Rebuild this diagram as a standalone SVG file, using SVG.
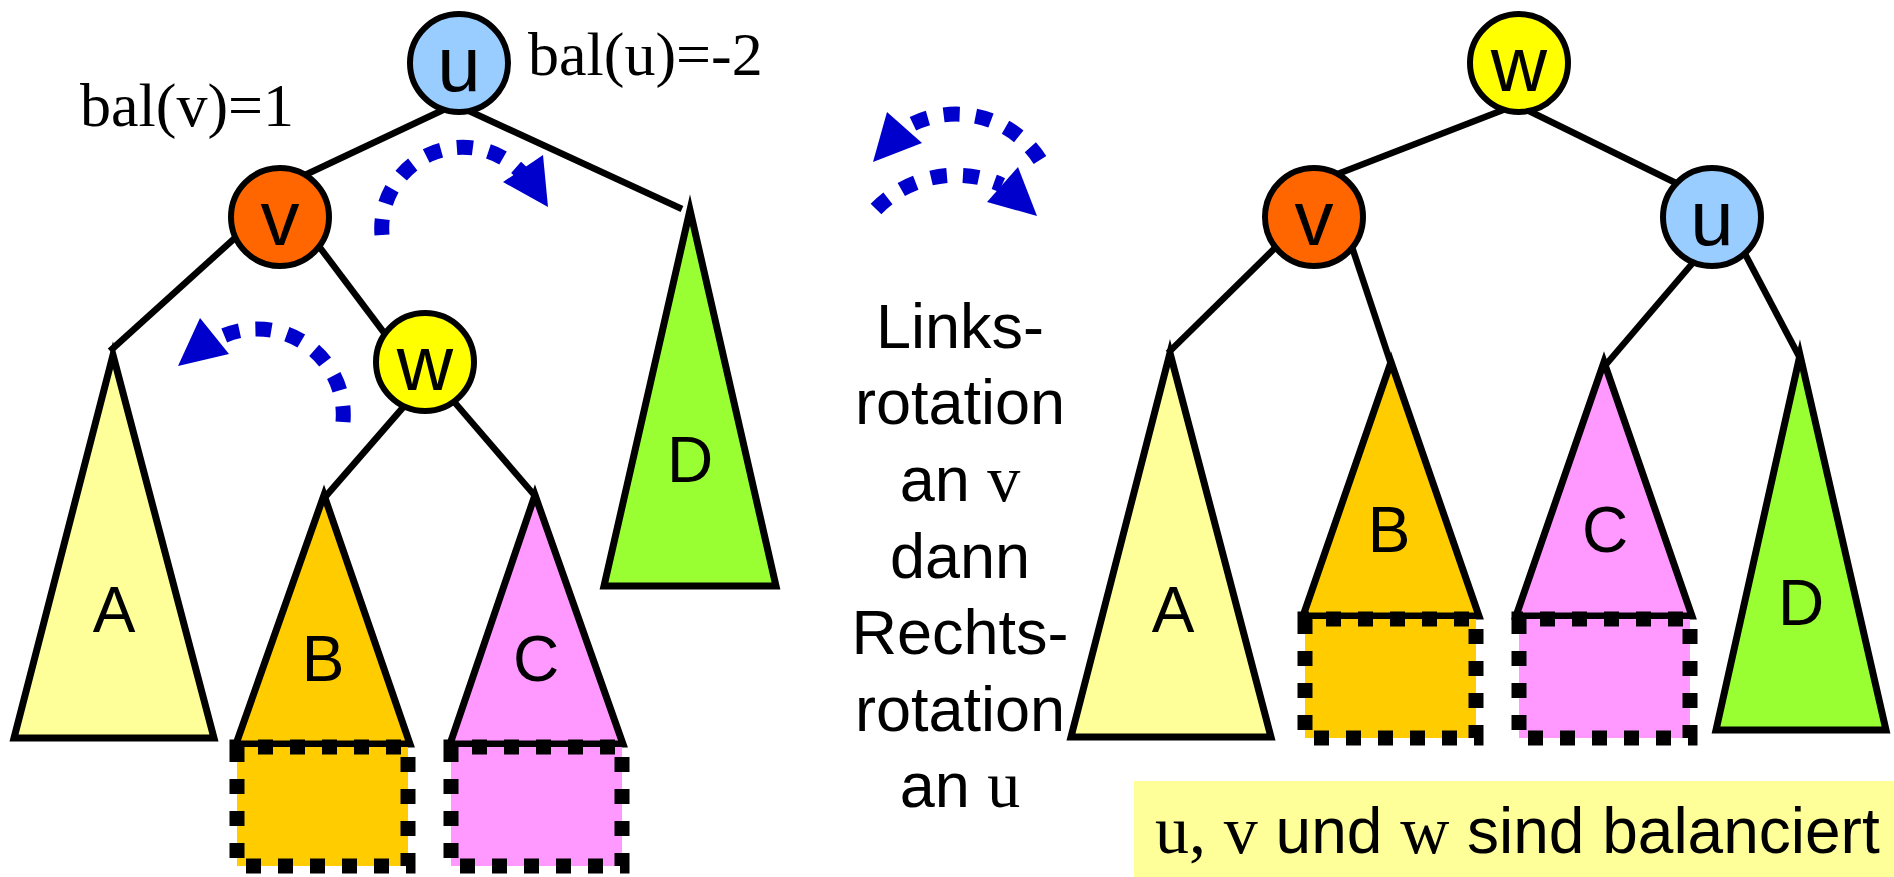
<svg xmlns="http://www.w3.org/2000/svg" width="1894" height="877" viewBox="0 0 1894 877">
<style>
.edge{stroke:#000;stroke-width:6.5;fill:none;stroke-linecap:butt}
.node{stroke:#000;stroke-width:6}
.tri{stroke:#000;stroke-width:7;stroke-linejoin:miter;stroke-miterlimit:10}
.box{stroke:#000;stroke-width:15;stroke-dasharray:15 17;stroke-dashoffset:11}
.rot{stroke:#0000CC;stroke-width:15;fill:none;stroke-dasharray:16 16}
.head{fill:#0000CC}
.sans{font-family:"Liberation Sans",Arial,sans-serif;fill:#000}
.serif{font-family:"Liberation Serif","Times New Roman",serif;fill:#000}
.nl{font-size:78px;text-anchor:middle}
.tl{font-size:64px;text-anchor:middle}
.mid{font-size:63px;text-anchor:middle}
</style>
<rect width="1894" height="877" fill="#fff"/>

<g id="connectors">
  <line class="edge" x1="443" y1="110" x2="305" y2="175"/>
  <line class="edge" x1="467" y1="110" x2="682" y2="209"/>
  <line class="edge" x1="236" y1="237" x2="110" y2="351"/>
  <line class="edge" x1="318" y1="245" x2="385" y2="334"/>
  <line class="edge" x1="406" y1="404" x2="326" y2="496"/>
  <line class="edge" x1="450" y1="397" x2="536" y2="497"/>
  <line class="edge" x1="1503" y1="110" x2="1335" y2="175"/>
  <line class="edge" x1="1527" y1="110" x2="1680" y2="185"/>
  <line class="edge" x1="1276" y1="247" x2="1168" y2="353"/>
  <line class="edge" x1="1352" y1="247" x2="1391" y2="364"/>
  <line class="edge" x1="1697" y1="258" x2="1603" y2="368"/>
  <line class="edge" x1="1744" y1="252" x2="1801" y2="360"/>
  <path class="rot" d="M 382 235 A 81 81 0 0 1 521 172"/>
  <polygon class="head" points="503,182 543,155 548,207"/>
  <path class="rot" d="M 343 422 A 86 86 0 0 0 215 340"/>
  <polygon class="head" points="200,318 229,354 178,366"/>
  <path class="rot" d="M 1040 160 A 100 100 0 0 0 905 128"/>
  <polygon class="head" points="887,112 922,143 873,162"/>
  <path class="rot" d="M 876 209 A 112 112 0 0 1 1002 185"/>
  <polygon class="head" points="987,202 1018,167 1037,216"/>
</g>

<g id="left-u">
  <circle class="node" cx="459" cy="63" r="49" fill="#99CCFF"/>
  <text class="sans nl" x="459" y="91">u</text>
</g>
<g id="left-v">
  <circle class="node" cx="280" cy="217" r="49" fill="#FF6600"/>
  <text class="sans nl" x="280" y="245">v</text>
</g>
<g id="left-w">
  <circle class="node" cx="425" cy="362" r="49" fill="#FFFF00"/>
  <text class="sans nl" x="425" y="390">w</text>
</g>
<g id="left-A">
  <polygon class="tri" points="113,355 214,738 14,738" fill="#FFFF99"/>
  <text class="sans tl" x="114" y="632">A</text>
</g>
<g id="left-B">
  <polygon class="tri" points="324,495 410,744 236,744" fill="#FFCC00"/>
  <rect class="box" x="237" y="747" width="171" height="119" fill="#FFCC00"/>
  <text class="sans tl" x="323" y="681">B</text>
</g>
<g id="left-C">
  <polygon class="tri" points="535,495 623,744 450,744" fill="#FF99FF"/>
  <rect class="box" x="451" y="747" width="171" height="119" fill="#FF99FF"/>
  <text class="sans tl" x="536" y="681">C</text>
</g>
<g id="left-D">
  <polygon class="tri" points="690,210 776,586 604,586" fill="#99FF33"/>
  <text class="sans tl" x="690" y="482">D</text>
</g>
<g id="bal-labels">
  <text class="serif" font-size="62" x="80" y="126">bal(v)=1</text>
  <text class="serif" font-size="62" x="528" y="75">bal(u)=-2</text>
</g>

<g id="middle-text">
  <text class="sans mid" x="960" y="348">Links-</text>
  <text class="sans mid" x="960" y="424">rotation</text>
  <text class="sans mid" x="960" y="501">an <tspan class="serif" font-size="66">v</tspan></text>
  <text class="sans mid" x="960" y="578">dann</text>
  <text class="sans mid" x="960" y="654">Rechts-</text>
  <text class="sans mid" x="960" y="731">rotation</text>
  <text class="sans mid" x="960" y="807">an <tspan class="serif" font-size="66">u</tspan></text>
</g>

<g id="right-w">
  <circle class="node" cx="1519" cy="63" r="49" fill="#FFFF00"/>
  <text class="sans nl" x="1519" y="91">w</text>
</g>
<g id="right-v">
  <circle class="node" cx="1314" cy="217" r="49" fill="#FF6600"/>
  <text class="sans nl" x="1314" y="245">v</text>
</g>
<g id="right-u">
  <circle class="node" cx="1712" cy="217" r="49" fill="#99CCFF"/>
  <text class="sans nl" x="1712" y="245">u</text>
</g>
<g id="right-A">
  <polygon class="tri" points="1170,353 1271,737 1071,737" fill="#FFFF99"/>
  <text class="sans tl" x="1173" y="632">A</text>
</g>
<g id="right-B">
  <polygon class="tri" points="1391,362 1479,616 1303,616" fill="#FFCC00"/>
  <rect class="box" x="1305" y="619" width="171" height="119" fill="#FFCC00"/>
  <text class="sans tl" x="1389" y="552">B</text>
</g>
<g id="right-C">
  <polygon class="tri" points="1604,362 1692,616 1516,616" fill="#FF99FF"/>
  <rect class="box" x="1519" y="619" width="171" height="119" fill="#FF99FF"/>
  <text class="sans tl" x="1605" y="552">C</text>
</g>
<g id="right-D">
  <polygon class="tri" points="1800,355 1886,730 1716,730" fill="#99FF33"/>
  <text class="sans tl" x="1801" y="625">D</text>
</g>

<g id="caption">
  <rect x="1134" y="781" width="760" height="96" fill="#FFFF99"/>
  <text class="sans" font-size="64" x="1155" y="853"><tspan class="serif" font-size="68">u,</tspan> <tspan class="serif" font-size="68">v</tspan> und <tspan class="serif" font-size="68">w</tspan> sind balanciert</text>
</g>
</svg>
